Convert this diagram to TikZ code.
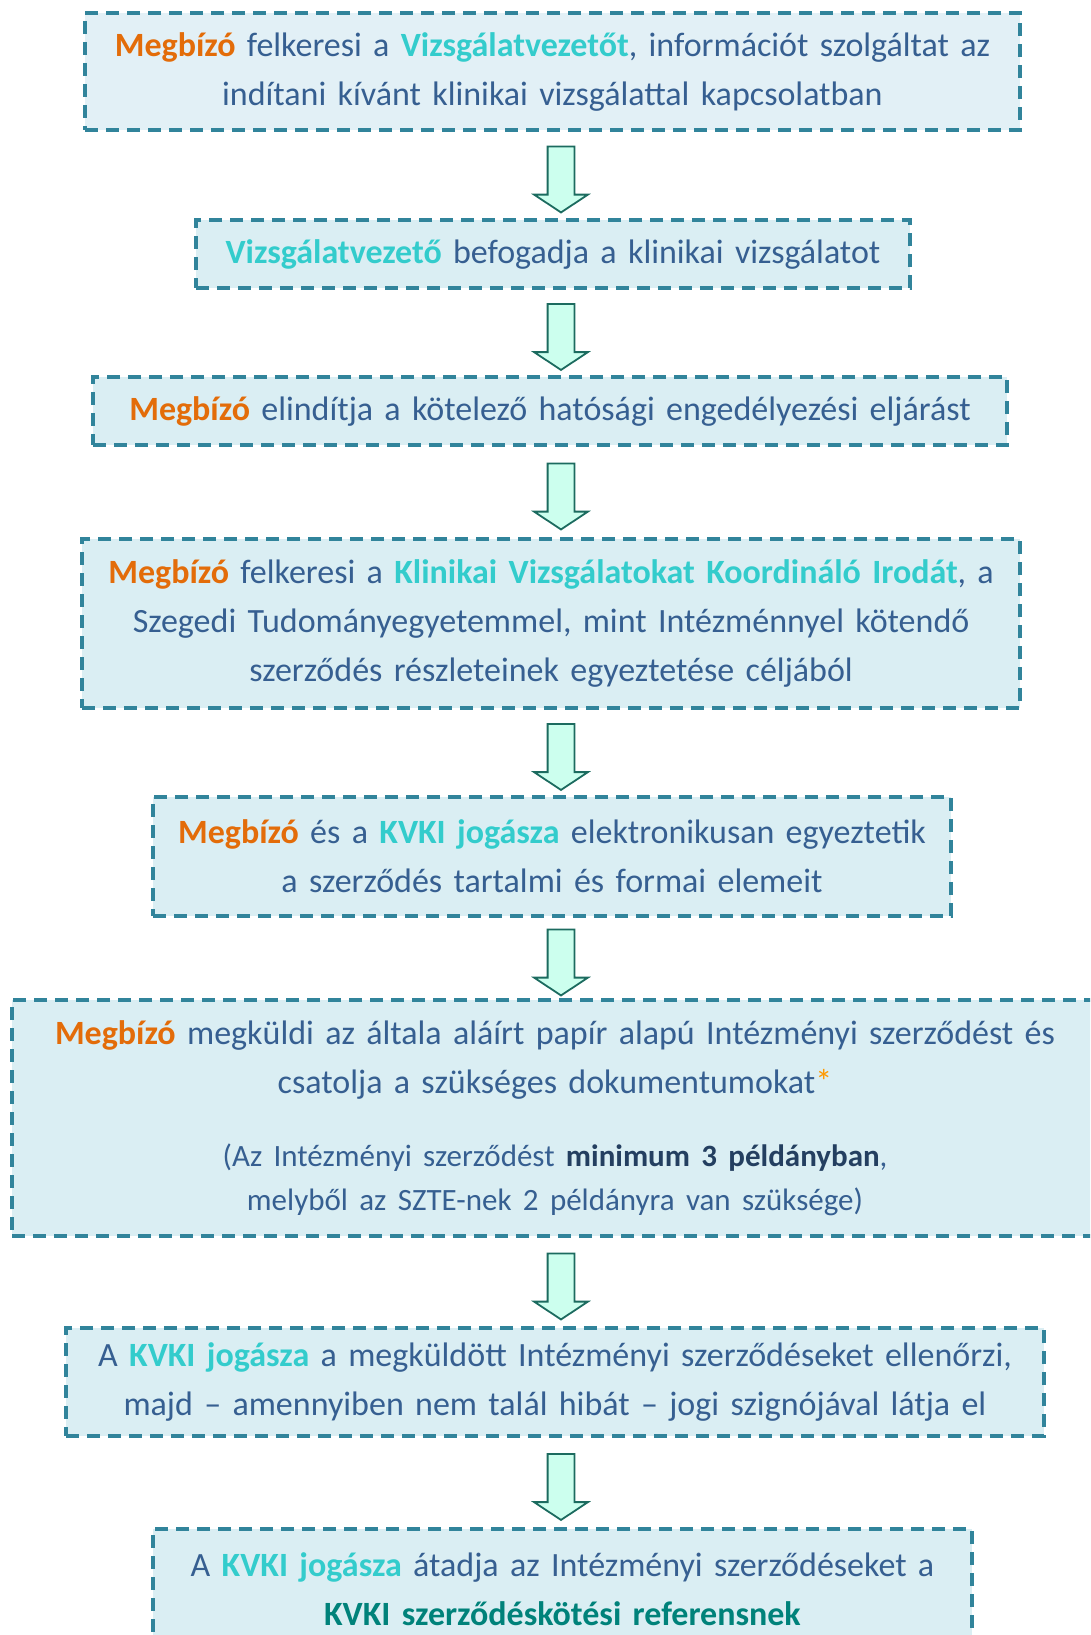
\documentclass[tikz,border=0pt]{standalone}
\usepackage{fontspec}
\setmainfont{Carlito}
\usetikzlibrary{calc,shapes.arrows}

\definecolor{boxline}{HTML}{31849B}
\definecolor{boxfill}{HTML}{DAEEF3}
\definecolor{boxfirst}{HTML}{E2F0F6}
\definecolor{bodytxt}{HTML}{365F91}
\definecolor{orangetxt}{HTML}{E36C09}
\definecolor{cyantxt}{HTML}{33CCCC}
\definecolor{tealtxt}{HTML}{00827A}
\definecolor{navytxt}{HTML}{243F60}
\definecolor{startxt}{HTML}{FF9900}
\definecolor{arrowfill}{HTML}{CCFFEE}
\definecolor{arrowline}{HTML}{1C6B5F}

\newcommand\megbizo[1]{\textcolor{orangetxt}{\textbf{#1}}}
\newcommand\szerv[1]{\textcolor{cyantxt}{\textbf{#1}}}

\begin{document}
\begin{tikzpicture}[x=1pt,y=-1pt,
  stepbox/.style={draw=boxline, line width=3.6pt, dash pattern=on 13pt off 8pt,
    fill=boxfill, inner sep=0pt, text=bodytxt, align=center,
    font=\fontsize{34}{49}\selectfont},
  flowarrow/.style={single arrow, draw=arrowline, fill=arrowfill, line width=1.8pt,
    rotate=-90, inner sep=12.5pt, minimum height=66pt,
    single arrow head extend=13.5pt, single arrow tip angle=113}]
  \clip (0,0) rectangle (1090,1635);

  %% The steps of the procedure
  \node[stepbox, fill=boxfirst, text width=935pt, minimum height=117pt] (b1) at (552.5,71.5)
    {\megbizo{Megbízó} felkeresi a \szerv{Vizsgálatvezetőt}, információt szolgáltat az\\
     indítani kívánt klinikai vizsgálattal kapcsolatban};
  \node[stepbox, text width=714pt, minimum height=68pt] (b2) at (553,254)
    {\szerv{Vizsgálatvezető} befogadja a klinikai vizsgálatot};
  \node[stepbox, text width=914pt, minimum height=68pt] (b3) at (550,411)
    {\megbizo{Megbízó} elindítja a kötelező hatósági engedélyezési eljárást};
  \node[stepbox, text width=938pt, minimum height=169pt] (b4) at (551,623.5)
    {\megbizo{Megbízó} felkeresi a \szerv{Klinikai Vizsgálatokat Koordináló Irodát}, a\\
     Szegedi Tudományegyetemmel, mint Intézménnyel kötendő\\
     szerződés részleteinek egyeztetése céljából};
  \node[stepbox, text width=798pt, minimum height=119pt] (b5) at (552,856.5)
    {\megbizo{Megbízó} és a \szerv{KVKI jogásza} elektronikusan egyeztetik\\
     a szerződés tartalmi és formai elemeit};
  \node[stepbox, text width=1086pt, minimum height=236pt] (b6) at (555,1118)
    {\megbizo{Megbízó} megküldi az általa aláírt papír alapú Intézményi szerződést és\\
     csatolja a szükséges dokumentumokat\textcolor{startxt}{*}\par\vspace{29pt}
     {\fontsize{31}{44}\selectfont (Az Intézményi szerződést
       \textcolor{navytxt}{\textbf{minimum 3 példányban}},\\
       melyből az SZTE-nek 2 példányra van szüksége)\par}};
  \node[stepbox, text width=978pt, minimum height=108pt] (b7) at (555,1382)
    {A \szerv{KVKI jogásza} a megküldött Intézményi szerződéseket ellenőrzi,\\
     majd – amennyiben nem talál hibát – jogi szignójával látja el};
  \node[stepbox, text width=819pt, minimum height=120pt] (b8) at (562.5,1589)
    {A \szerv{KVKI jogásza} átadja az Intézményi szerződéseket a\\
     \textcolor{tealtxt}{\textbf{KVKI szerződéskötési referensnek}}};

  %% Block arrows between consecutive steps
  \coordinate (ax) at (561,0);
  \foreach \i/\j in {1/2,2/3,3/4,4/5,5/6,6/7,7/8}
  {
    \coordinate (m\i) at ($(b\i.south)!0.5!(b\j.north)$);
    \node[flowarrow] (a\i) at (ax |- m\i) {};
  }
\end{tikzpicture}
\end{document}
